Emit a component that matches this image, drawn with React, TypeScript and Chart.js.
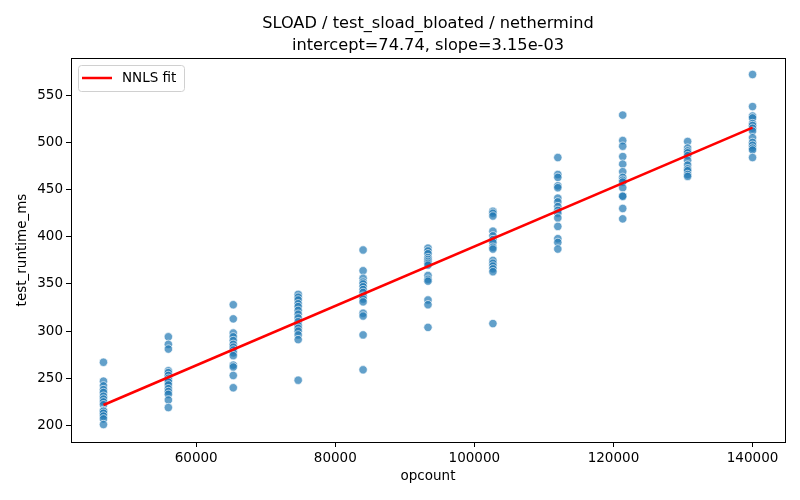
import { useRef, useEffect } from 'react'
import Chart from 'chart.js/auto'

const TITLE_LINES = ['SLOAD / test_sload_bloated / nethermind', 'intercept=74.74, slope=3.15e-03']
const FIT_INTERCEPT = 74.74
const FIT_SLOPE = 3.15e-3

const opcounts = [46667, 56000, 65333, 74667, 84000, 93333, 102667, 112000, 121333, 130667, 140000]

// runtimes (ms) read per opcount column
const runtimesByOpcount: number[][] = [
  [267, 247, 242, 238, 235, 231, 228, 225, 222, 216, 215, 213, 210, 207, 201],
  [294, 286, 281, 258, 256, 253, 250, 248, 246, 243, 239, 236, 233, 227, 219],
  [328, 313, 298, 294, 290, 286, 283, 280, 277, 274, 264, 262, 253, 240],
  [339, 336, 333, 329, 326, 322, 318, 314, 310, 306, 303, 300, 296, 291, 248],
  [386, 364, 356, 352, 350, 347, 344, 341, 337, 334, 331, 319, 316, 296, 259],
  [388, 385, 382, 378, 376, 374, 372, 370, 359, 355, 353, 333, 328, 304],
  [427, 425, 422, 406, 401, 397, 394, 389, 387, 375, 372, 369, 366, 363, 308],
  [484, 466, 463, 454, 452, 441, 437, 432, 428, 425, 420, 411, 398, 394, 387],
  [529, 502, 496, 485, 477, 469, 463, 460, 458, 452, 443, 443, 430, 419],
  [501, 494, 491, 489, 486, 481, 476, 472, 470, 466, 464],
  [572, 538, 528, 526, 520, 518, 515, 512, 505, 500, 497, 494, 492, 484],
]

const xTicks = [60000, 80000, 100000, 120000, 140000]
const yTicks = [200, 250, 300, 350, 400, 450, 500, 550]

const FONT = 'DejaVu Sans, sans-serif'

const framePlugin = {
  id: 'frame',
  afterDatasetsDraw(chart: Chart) {
    const { ctx, chartArea: a } = chart
    ctx.save()
    // legend box
    const lx = a.left + 7
    const ly = a.top + 7
    ctx.fillStyle = 'rgba(255,255,255,0.8)'
    ctx.strokeStyle = '#d0d0d0'
    ctx.lineWidth = 1
    ctx.beginPath()
    ctx.roundRect(lx + 0.5, ly + 0.5, 106, 26, 3)
    ctx.fill()
    ctx.stroke()
    ctx.strokeStyle = '#ff0000'
    ctx.lineWidth = 2.5
    ctx.beginPath()
    ctx.moveTo(lx + 4, ly + 13)
    ctx.lineTo(lx + 34, ly + 13)
    ctx.stroke()
    ctx.fillStyle = '#000'
    ctx.font = `13.5px ${FONT}`
    ctx.textBaseline = 'middle'
    ctx.fillText('NNLS fit', lx + 44, ly + 13.5)
    // axes frame
    ctx.strokeStyle = '#000'
    ctx.lineWidth = 1
    ctx.strokeRect(a.left + 0.5, a.top + 0.5, a.right - a.left, a.bottom - a.top)
    ctx.restore()
  },
}

export default function App() {
  const canvasRef = useRef<HTMLCanvasElement>(null)
  const chartRef = useRef<Chart | null>(null)

  useEffect(() => {
    if (!canvasRef.current) return
    Chart.getChart(canvasRef.current)?.destroy()

    const points = opcounts.flatMap((x, i) => runtimesByOpcount[i].map((y) => ({ x, y })))
    const xFirst = opcounts[0]
    const xLast = opcounts[opcounts.length - 1]
    const fit = [
      { x: xFirst, y: FIT_INTERCEPT + FIT_SLOPE * xFirst },
      { x: xLast, y: FIT_INTERCEPT + FIT_SLOPE * xLast },
    ]

    const tickStyle = { font: { size: 13.5, family: FONT }, color: '#000' }

    chartRef.current = new Chart(canvasRef.current, {
      type: 'scatter',
      data: {
        datasets: [
          {
            type: 'line',
            label: 'NNLS fit',
            data: fit,
            borderColor: '#ff0000',
            borderWidth: 2.6,
            pointRadius: 0,
            fill: false,
            order: 0,
          },
          {
            label: 'runtime',
            data: points,
            backgroundColor: 'rgba(31,119,180,0.7)',
            borderColor: 'rgba(255,255,255,0.8)',
            borderWidth: 0.8,
            pointRadius: 4.2,
            order: 1,
          },
        ],
      },
      options: {
        responsive: true,
        maintainAspectRatio: false,
        animation: false,
        layout: { padding: { left: 0, right: 15, top: 0, bottom: 0 } },
        plugins: {
          legend: { display: false },
          tooltip: { enabled: false },
          title: {
            display: true,
            fullSize: false,
            text: TITLE_LINES,
            color: '#000',
            font: { size: 16.2, family: FONT, weight: 'normal', lineHeight: 1.35 },
            padding: { top: 13, bottom: 1.26 },
          },
        },
        scales: {
          x: {
            type: 'linear',
            min: 42000,
            max: 144667,
            afterBuildTicks: (s: any) => { s.ticks = xTicks.map((value) => ({ value })) },
            afterFit: (s: any) => { s.height = 58 },
            ticks: { ...tickStyle, padding: 3, maxRotation: 0, callback: (v: any) => String(v) },
            grid: { drawOnChartArea: false, drawTicks: true, tickLength: 5, color: '#000' },
            border: { display: false },
            title: {
              display: true,
              text: 'opcount',
              color: '#000',
              font: { size: 13.5, family: FONT },
              padding: { top: 0, bottom: 15 },
            },
          },
          y: {
            type: 'linear',
            min: 182.5,
            max: 589.5,
            afterBuildTicks: (s: any) => { s.ticks = yTicks.map((value) => ({ value })) },
            afterFit: (s: any) => { s.width = 71 },
            ticks: { ...tickStyle, padding: 3, callback: (v: any) => String(v) },
            grid: { drawOnChartArea: false, drawTicks: true, tickLength: 5, color: '#000' },
            border: { display: false },
            title: {
              display: true,
              text: 'test_runtime_ms',
              color: '#000',
              font: { size: 13.5, family: FONT },
              padding: { top: 14, bottom: 0 },
            },
          },
        },
      },
      plugins: [framePlugin],
    })

    return () => { chartRef.current?.destroy(); chartRef.current = null }
  }, [])

  return (
    <div style={{ position: 'absolute', left: 0, top: 0, width: 800, height: 500, background: '#fff' }}>
      <canvas ref={canvasRef} />
    </div>
  )
}
